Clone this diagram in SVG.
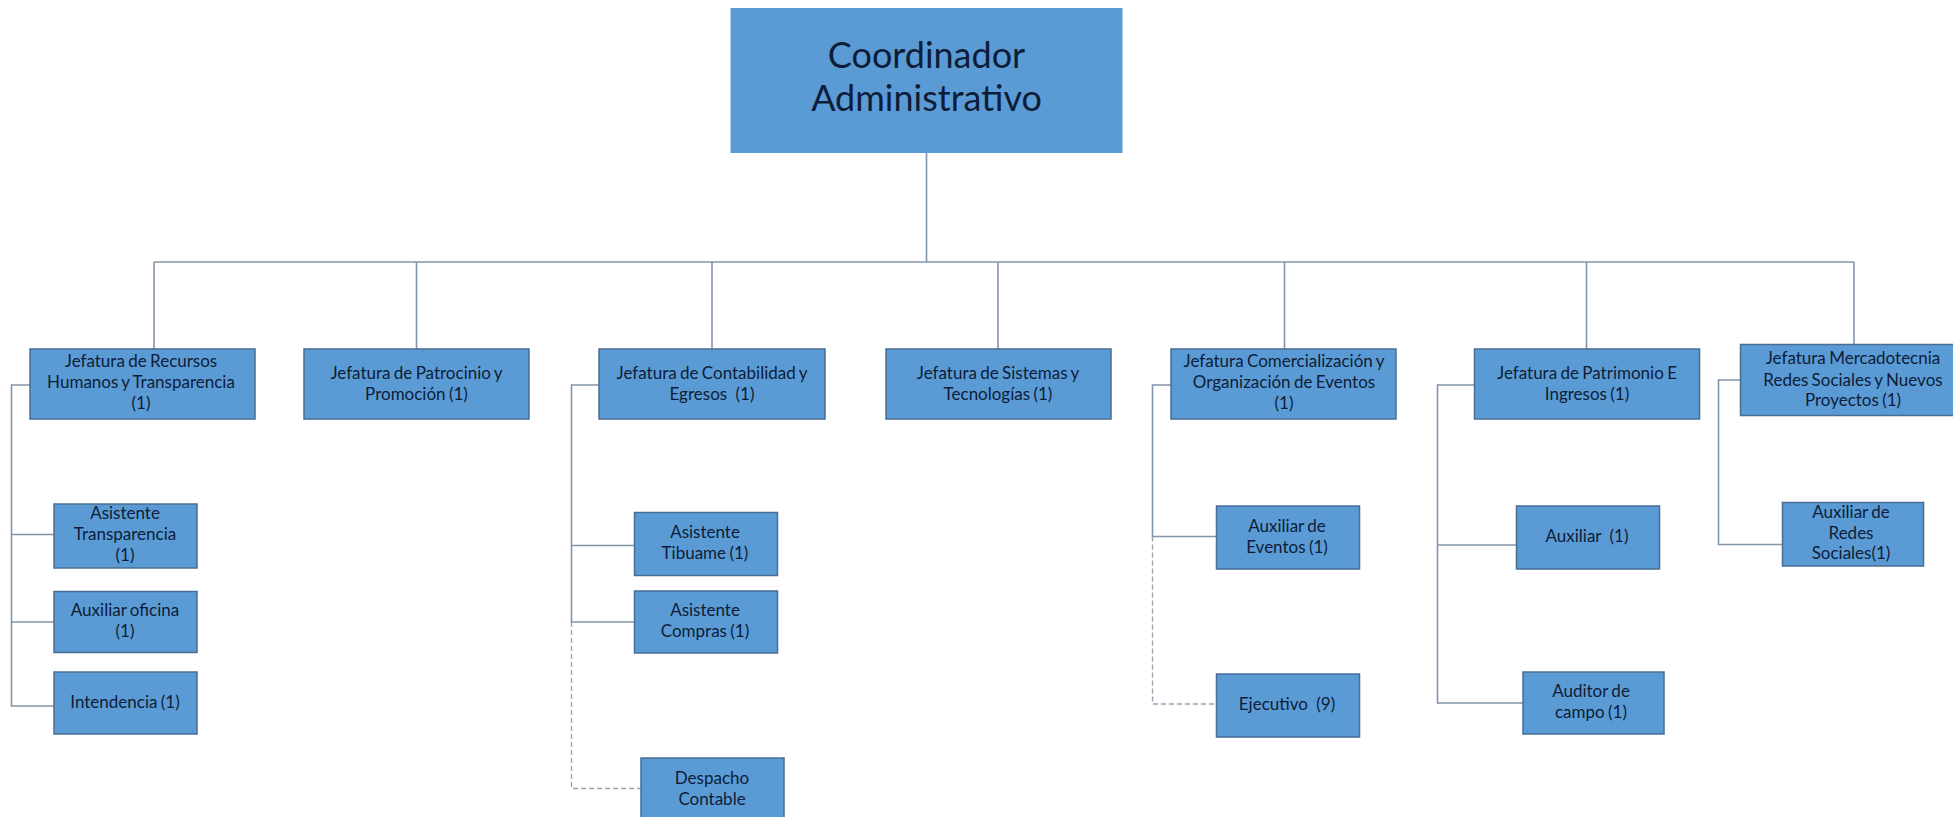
<svg xmlns="http://www.w3.org/2000/svg" width="1953" height="817" viewBox="0 0 1953 817">
<style>
.box{fill:#5b9bd5;stroke:#4a6d93;stroke-width:1.5}
.top{fill:#5b9bd5;stroke:#5b9bd5}
.t{font-family:Lato,"Open Sans",sans-serif;font-size:17px;fill:#0d1d38;text-anchor:middle;word-spacing:-1px}
.tb{font-family:Lato,"Open Sans",sans-serif;font-size:36px;fill:#0d1d38;text-anchor:middle}
.ln{fill:none;stroke:#8395aa;stroke-width:1.6}
.dl{fill:none;stroke:#95a3b3;stroke-width:1.4;stroke-dasharray:5 3}
</style>
<rect width="1953" height="817" fill="#ffffff"/>
<g id="connectors">
<path class="ln" d="M926.5 153 V262 M154 262 H1854 M154 262 V349 M416.5 262 V349 M712 262 V349 M998 262 V349 M1284.5 262 V349 M1586.5 262 V349 M1854 262 V344"/>
<path class="ln" d="M30 385 H11.5 V706 H54 M11.5 534.5 H54 M11.5 622 H54"/>
<path class="ln" d="M599 385 H571.5 V622 H634 M571.5 545.5 H634"/>
<path class="dl" d="M571.5 622 V788.5 H641"/>
<path class="ln" d="M1171 385 H1152.5 V536.5 H1216"/>
<path class="dl" d="M1152.5 536.5 V704 H1216"/>
<path class="ln" d="M1474 385 H1437.5 V703 H1523 M1437.5 545 H1516"/>
<path class="ln" d="M1740.5 380 H1718.5 V544.5 H1782"/>
</g>
<g id="coordinador">
<rect class="top" x="731" y="8.5" width="391" height="144"/>
<text class="tb" x="926.5" y="68">Coordinador</text>
<text class="tb" x="926.5" y="111">Administrativo</text>
</g>
<g id="jef-rh">
<rect class="box" x="30" y="349" width="225" height="70"/>
<text class="t" x="141" y="367">Jefatura de Recursos</text>
<text class="t" x="141" y="388">Humanos y Transparencia</text>
<text class="t" x="141" y="409">(1)</text>
</g>
<g id="jef-patrocinio">
<rect class="box" x="304" y="349" width="225" height="70"/>
<text class="t" x="416.5" y="379">Jefatura de Patrocinio y</text>
<text class="t" x="416.5" y="400">Promoción (1)</text>
</g>
<g id="jef-contabilidad">
<rect class="box" x="599" y="349" width="226" height="70"/>
<text class="t" x="712" y="379">Jefatura de Contabilidad y</text>
<text class="t" x="712" y="400" style="word-spacing:4px">Egresos (1)</text>
</g>
<g id="jef-sistemas">
<rect class="box" x="886" y="349" width="225" height="70"/>
<text class="t" x="998" y="379">Jefatura de Sistemas y</text>
<text class="t" x="998" y="400">Tecnologías (1)</text>
</g>
<g id="jef-comercializacion">
<rect class="box" x="1171" y="349" width="225" height="70"/>
<text class="t" x="1284" y="367">Jefatura Comercialización y</text>
<text class="t" x="1284" y="388">Organización de Eventos</text>
<text class="t" x="1284" y="409">(1)</text>
</g>
<g id="jef-patrimonio">
<rect class="box" x="1474.5" y="349" width="225" height="70"/>
<text class="t" x="1587" y="379">Jefatura de Patrimonio E</text>
<text class="t" x="1587" y="400">Ingresos (1)</text>
</g>
<g id="jef-mercadotecnia">
<rect class="box" x="1740.5" y="344.5" width="225" height="71"/>
<text class="t" x="1853" y="364">Jefatura Mercadotecnia</text>
<text class="t" x="1853" y="385.5">Redes Sociales y Nuevos</text>
<text class="t" x="1853" y="406">Proyectos (1)</text>
</g>
<g id="asistente-transparencia">
<rect class="box" x="54" y="504" width="143" height="64"/>
<text class="t" x="125" y="519">Asistente</text>
<text class="t" x="125" y="540">Transparencia</text>
<text class="t" x="125" y="561">(1)</text>
</g>
<g id="auxiliar-oficina">
<rect class="box" x="54" y="591.5" width="143" height="61"/>
<text class="t" x="125" y="616">Auxiliar oficina</text>
<text class="t" x="125" y="637">(1)</text>
</g>
<g id="intendencia">
<rect class="box" x="54" y="672" width="143" height="62"/>
<text class="t" x="125" y="708">Intendencia (1)</text>
</g>
<g id="asistente-tibuame">
<rect class="box" x="634.5" y="512.5" width="143" height="63"/>
<text class="t" x="705" y="538">Asistente</text>
<text class="t" x="705" y="559">Tibuame (1)</text>
</g>
<g id="asistente-compras">
<rect class="box" x="634.5" y="591" width="143" height="62"/>
<text class="t" x="705" y="615.5">Asistente</text>
<text class="t" x="705" y="636.5">Compras (1)</text>
</g>
<g id="despacho-contable">
<rect class="box" x="641" y="758" width="143" height="70"/>
<text class="t" x="712" y="784">Despacho</text>
<text class="t" x="712" y="805">Contable</text>
</g>
<g id="auxiliar-eventos">
<rect class="box" x="1216.5" y="506" width="143" height="63"/>
<text class="t" x="1287" y="532">Auxiliar de</text>
<text class="t" x="1287" y="553">Eventos (1)</text>
</g>
<g id="ejecutivo">
<rect class="box" x="1216.5" y="674" width="143" height="63"/>
<text class="t" x="1287" y="710" style="word-spacing:4px">Ejecutivo (9)</text>
</g>
<g id="auxiliar">
<rect class="box" x="1516.5" y="506" width="143" height="63"/>
<text class="t" x="1587" y="542" style="word-spacing:4px">Auxiliar (1)</text>
</g>
<g id="auditor-campo">
<rect class="box" x="1523" y="672" width="141" height="62"/>
<text class="t" x="1591" y="696.5">Auditor de</text>
<text class="t" x="1591" y="717.5">campo (1)</text>
</g>
<g id="auxiliar-redes">
<rect class="box" x="1782.5" y="502.5" width="141" height="63.5"/>
<text class="t" x="1851" y="517.5">Auxiliar de</text>
<text class="t" x="1851" y="538.5">Redes</text>
<text class="t" x="1851" y="559">Sociales(1)</text>
</g>
</svg>
